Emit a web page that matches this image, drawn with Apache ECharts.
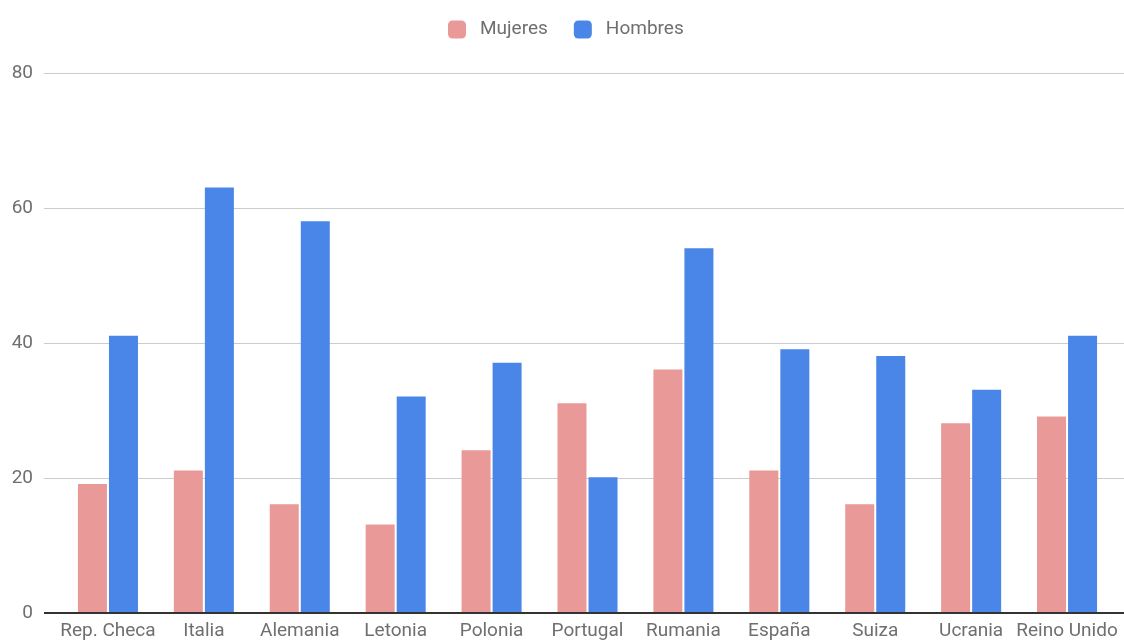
<!DOCTYPE html>
<html><head><meta charset="utf-8">
<script src="https://cdn.jsdelivr.net/npm/echarts@6/dist/echarts.min.js"></script>
<style>html,body{margin:0;padding:0;background:#fff}#c{width:1124px;height:641px}</style>
</head><body><div id="c"></div>
<script>
const categories = ['Rep. Checa','Italia','Alemania','Letonia','Polonia','Portugal','Rumania','España','Suiza','Ucrania','Reino Unido'];
const mujeres = [19,21,16,13,24,31,36,21,16,28,29];
const hombres = [41,63,58,32,37,20,54,39,38,33,41];
const yTicks = [0,20,40,60,80];

const chart = echarts.init(document.getElementById('c'));
const txt = '#6f6f6f';
chart.setOption({
  animation:false,
  textStyle:{fontFamily:'Roboto'},
  legend:{top:15,left:443,itemWidth:18,itemHeight:18,itemGap:26,
    icon:'roundRect',
    textStyle:{color:txt,fontSize:19,fontFamily:'Roboto',padding:[0,0,0,9]},
    data:['Mujeres','Hombres']},
  grid:[
    {left:44,right:0,top:73,bottom:28,containLabel:false},
    {left:60,width:1055,top:73,bottom:28,containLabel:false}
  ],
  xAxis:[
    {gridIndex:0,type:'value',min:0,max:1,show:false},
    {gridIndex:1,type:'category',data:categories,
      axisLine:{show:false},axisTick:{show:false},
      axisLabel:{color:txt,fontSize:19,margin:10,interval:0}}
  ],
  yAxis:[
    {gridIndex:0,type:'value',min:yTicks[0],max:yTicks[yTicks.length-1],interval:20,
      axisLine:{show:false},axisTick:{show:false},
      axisLabel:{color:txt,fontSize:19,margin:11},
      splitLine:{lineStyle:{color:'#cccccc',width:1}}},
    {gridIndex:1,type:'value',min:yTicks[0],max:yTicks[yTicks.length-1],interval:20,show:false,splitLine:{show:false}}
  ],
  series:[
    {name:'Mujeres',type:'bar',xAxisIndex:1,yAxisIndex:1,data:mujeres,barWidth:29,barGap:'7%',itemStyle:{color:'#ea9999'}},
    {name:'Hombres',type:'bar',xAxisIndex:1,yAxisIndex:1,data:hombres,barWidth:29,barGap:'7%',itemStyle:{color:'#4a86e8'}},
    {type:'line',xAxisIndex:0,yAxisIndex:0,data:[[0,0],[1,0]],symbol:'none',silent:true,
      lineStyle:{color:'#333333',width:2},z:5}
  ]
});
</script></body></html>
